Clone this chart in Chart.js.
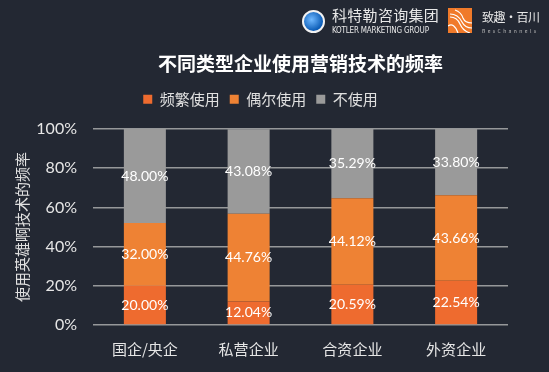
<!DOCTYPE html>
<html>
<head>
<meta charset="utf-8">
<script src="https://cdn.jsdelivr.net/npm/chart.js@4/dist/chart.umd.min.js"></script>
<style>
    html, body { margin: 0; padding: 0; background: #232833; }
    #wrap { position: relative; width: 549px; height: 372px; }
    #chart { position: absolute; left: 0; top: 0; }
    .logo { position: absolute; white-space: nowrap; font-family: "Noto Sans CJK SC", sans-serif; color: #e8e8e8; }
</style>
</head>
<body>
<div id="wrap">
    <canvas id="chart" width="549" height="372"></canvas>

    <!-- logos, top right -->
    <div class="logo" style="left:302px;top:10px;width:23px;height:23px;border-radius:50%;background:radial-gradient(circle at 40% 40%, #6fb8ff, #0a5bb5 70%);border:2px solid #f2f2f2;box-sizing:border-box;"></div>
    <div class="logo" style="left:332px;top:6px;font-size:15px;line-height:18px;letter-spacing:0.3px;">科特勒咨询集团</div>
    <div class="logo" style="left:332px;top:26px;font-size:8px;line-height:9px;font-family:'Liberation Sans Narrow','DejaVu Sans Condensed',sans-serif;letter-spacing:-0.2px;">KOTLER MARKETING GROUP</div>
    <svg class="logo" style="left:448px;top:8px;" width="24" height="25" viewBox="0 0 24 25">
        <rect width="24" height="25" fill="#f07a2a"/>
        <path d="M2 6 Q10 6 14 14 Q17 20 24 20" stroke="#fff" stroke-width="1.2" fill="none"/>
        <path d="M2 9 Q9 9 12 16 Q15 23 22 25" stroke="#fff" stroke-width="1.2" fill="none"/>
        <path d="M7 2 Q13 4 15 10 Q17 15 24 15" stroke="#fff" stroke-width="1.2" fill="none"/>
        <path d="M0 18 Q6 14 10 25" stroke="#fff" stroke-width="1.2" fill="none"/>
    </svg>
    <div class="logo" style="left:482px;top:9px;font-size:12px;line-height:15px;letter-spacing:-0.5px;">致趣·百川</div>
    <div class="logo" style="left:482px;top:28px;font-size:5px;line-height:6px;letter-spacing:2.4px;color:#bbb;">BesChannels</div>
</div>

<script>
    // chart data
    var categories = ['国企/央企', '私营企业', '合资企业', '外资企业'];
    var frequentUse = [20.00, 12.04, 20.59, 22.54];
    var occasionalUse = [32.00, 44.76, 44.12, 43.66];
    var neverUse = [48.00, 43.08, 35.29, 33.80];
    var seriesNames = ['频繁使用', '偶尔使用', '不使用'];
    var yTicks = [0, 20, 40, 60, 80, 100];

    var cjkFont = '"Noto Sans CJK SC", "Noto Sans", sans-serif';

    // value labels in the middle of each segment
    var segmentLabels = {
        id: 'segmentLabels',
        afterDatasetsDraw: function(chart) {
            var ctx = chart.ctx;
            ctx.save();
            ctx.font = '14px Lato, "Noto Sans", sans-serif';
            ctx.fillStyle = '#ffffff';
            ctx.textAlign = 'center';
            ctx.textBaseline = 'middle';
            chart.data.datasets.forEach(function(ds, i) {
                var meta = chart.getDatasetMeta(i);
                meta.data.forEach(function(bar, j) {
                    var y = (bar.y + bar.base) / 2;
                    ctx.fillText(ds.data[j].toFixed(2) + '%', bar.x, y);
                });
            });
            ctx.restore();
        }
    };

    new Chart(document.getElementById('chart').getContext('2d'), {
        type: 'bar',
        data: {
            labels: categories,
            datasets: [
                { label: seriesNames[0], data: frequentUse, backgroundColor: '#ee6b2f' },
                { label: seriesNames[1], data: occasionalUse, backgroundColor: '#ee8234' },
                { label: seriesNames[2], data: neverUse, backgroundColor: '#9a9a9a' }
            ]
        },
        options: {
            responsive: false,
            animation: false,
            layout: {
                padding: { left: 13, right: 41, top: 0, bottom: 7 }
            },
            datasets: {
                bar: { barPercentage: 0.405, categoryPercentage: 1 }
            },
            plugins: {
                title: {
                    display: true,
                    text: '不同类型企业使用营销技术的频率',
                    color: '#ffffff',
                    font: { family: cjkFont, size: 19, weight: 'bold' },
                    padding: { top: 52, bottom: 7 },
                    fullSize: false,
                    weight: 2000
                },
                legend: {
                    display: true,
                    position: 'top',
                    align: 'center',
                    weight: 1800,
                    labels: {
                        color: '#e0e0e0',
                        font: { family: cjkFont, size: 15 },
                        boxWidth: 9,
                        boxHeight: 9,
                        padding: 10
                    }
                },
                // empty subtitle used as a gap between legend and plot
                subtitle: {
                    display: true,
                    text: '',
                    font: { size: 1 },
                    padding: { top: 0, bottom: 11 },
                    weight: 1500
                },
                tooltip: { enabled: false }
            },
            scales: {
                x: {
                    stacked: true,
                    grid: { display: false },
                    border: { display: false },
                    ticks: {
                        color: '#e6e6e6',
                        font: { family: cjkFont, size: 15 },
                        padding: 7
                    }
                },
                y: {
                    stacked: true,
                    min: 0,
                    max: 100,
                    afterBuildTicks: function(axis) {
                        axis.ticks = yTicks.map(function(v) { return { value: v }; });
                    },
                    afterFit: function(axis) {
                        axis.width = 80;
                    },
                    grid: {
                        color: 'rgba(190,190,190,0.75)',
                        lineWidth: 1.5,
                        drawTicks: false
                    },
                    border: { display: false },
                    ticks: {
                        color: '#e6e6e6',
                        font: { family: 'Lato, "Noto Sans", sans-serif', size: 16 },
                        padding: 16,
                        callback: function(v) { return v + '%'; }
                    },
                    title: {
                        display: true,
                        text: '使用英雄啊技术的频率',
                        color: '#e0e0e0',
                        font: { family: cjkFont, size: 15 },
                        padding: { top: 0, bottom: 0 }
                    }
                }
            }
        },
        plugins: [segmentLabels]
    });
</script>
</body>
</html>
